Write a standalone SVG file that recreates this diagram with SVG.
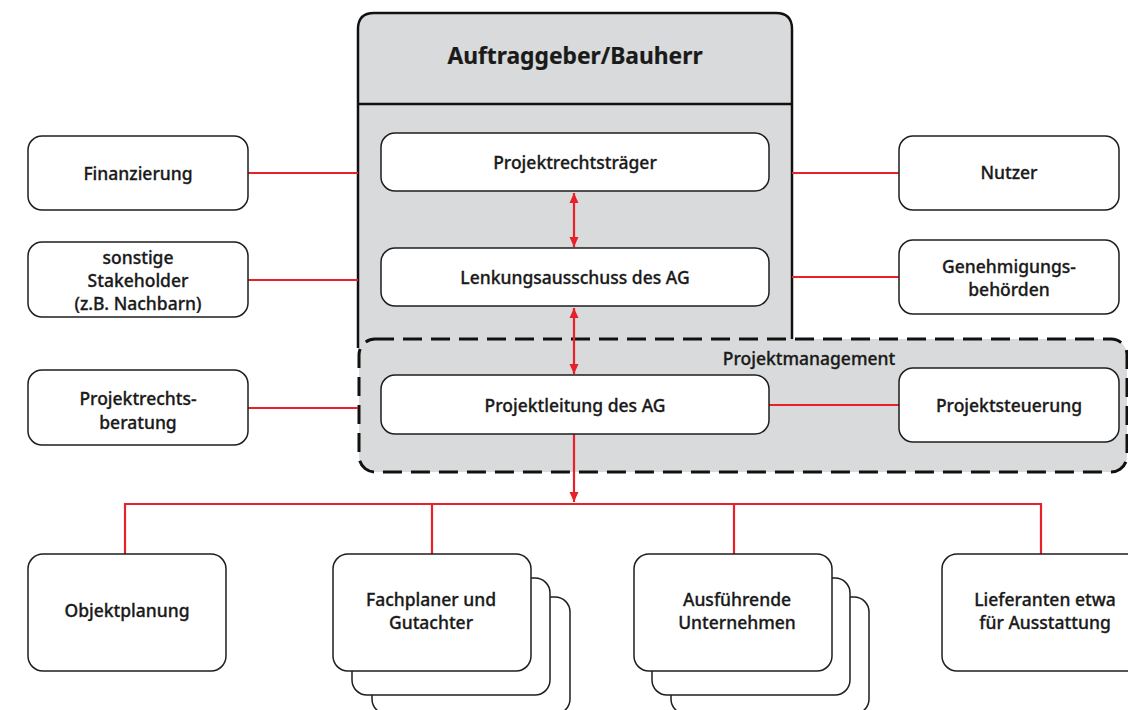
<svg xmlns="http://www.w3.org/2000/svg" width="1128" height="710" viewBox="0 0 1128 710">
  <style>
    .box { fill: #ffffff; stroke: #1e1e1e; stroke-width: 1.5; }
    .fill { fill: #d9dadb; stroke: none; }
    .edge { fill: none; stroke: #111111; stroke-width: 2.5; }
    .pm { fill: #d9dadb; stroke: #111111; stroke-width: 3; stroke-dasharray: 19 9; }
    .link { fill: none; stroke: #e8202a; stroke-width: 2.2; }
    text { font-family: "Noto Sans", "Liberation Sans", sans-serif; font-size: 17.5px; font-weight: 500; fill: #1a1a1a; stroke: #1a1a1a; stroke-width: 0.3; text-anchor: middle; dominant-baseline: central; }
    .title { font-size: 22.8px; font-weight: 700; stroke-width: 0.2; }
  </style>
  <defs>
    <marker id="arrow" viewBox="0 0 10 12" refX="10" refY="6" markerWidth="10" markerHeight="12" markerUnits="userSpaceOnUse" orient="auto-start-reverse">
      <path d="M0,1.5 L10,6 L0,10.5 Z" fill="#e8202a"/>
    </marker>
  </defs>

  <!-- client frame: open at the bottom, where the project management frame overlaps it -->
  <g id="auftraggeber">
    <path class="fill" d="M358,360 V29 Q358,13 374,13 H776 Q792,13 792,29 V360 Z"/>
    <path class="edge" d="M358,348 V29 Q358,13 374,13 H776 Q792,13 792,29 V339"/>
    <line x1="358" y1="104" x2="792" y2="104" stroke="#111111" stroke-width="2.5"/>
    <text class="title" x="575" y="55">Auftraggeber/Bauherr</text>
  </g>

  <!-- project management frame -->
  <g id="projektmanagement">
    <rect class="pm" x="359" y="339" width="768" height="133" rx="16"/>
    <text x="809" y="358">Projektmanagement</text>
  </g>

  <!-- connectors -->
  <g id="connectors">
    <line class="link" x1="248" y1="173" x2="358" y2="173"/>
    <line class="link" x1="248" y1="280" x2="358" y2="280"/>
    <line class="link" x1="248" y1="408" x2="358" y2="408"/>
    <line class="link" x1="792" y1="173" x2="899" y2="173"/>
    <line class="link" x1="792" y1="277" x2="899" y2="277"/>
    <line class="link" x1="769" y1="405" x2="899" y2="405"/>
    <line class="link" x1="574" y1="193" x2="574" y2="247" marker-start="url(#arrow)" marker-end="url(#arrow)"/>
    <line class="link" x1="574" y1="308" x2="574" y2="374" marker-start="url(#arrow)" marker-end="url(#arrow)"/>
    <line class="link" x1="574" y1="434" x2="574" y2="502" marker-end="url(#arrow)"/>
    <polyline class="link" points="125,554 125,504 1041,504 1041,554"/>
    <line class="link" x1="432" y1="504" x2="432" y2="554"/>
    <line class="link" x1="734" y1="504" x2="734" y2="554"/>
  </g>

  <!-- inner client boxes -->
  <g id="projektrechtstraeger">
    <rect class="box" x="381" y="133" width="388" height="58" rx="14"/>
    <text x="575" y="162">Projektrechtsträger</text>
  </g>
  <g id="lenkungsausschuss">
    <rect class="box" x="381" y="248" width="388" height="58" rx="14"/>
    <text x="575" y="277">Lenkungsausschuss des AG</text>
  </g>
  <g id="projektleitung">
    <rect class="box" x="381" y="375" width="388" height="59" rx="14"/>
    <text x="575" y="405">Projektleitung des AG</text>
  </g>
  <g id="projektsteuerung">
    <rect class="box" x="899" y="368" width="220" height="74" rx="14"/>
    <text x="1009" y="405">Projektsteuerung</text>
  </g>

  <!-- left side -->
  <g id="finanzierung">
    <rect class="box" x="28" y="136" width="220" height="74" rx="14"/>
    <text x="138" y="173">Finanzierung</text>
  </g>
  <g id="stakeholder">
    <rect class="box" x="28" y="242" width="220" height="75" rx="14"/>
    <text x="138" y="257">sonstige</text>
    <text x="138" y="280">Stakeholder</text>
    <text x="138" y="303">(z.B. Nachbarn)</text>
  </g>
  <g id="projektrechtsberatung">
    <rect class="box" x="28" y="370" width="220" height="75" rx="14"/>
    <text x="138" y="398">Projektrechts-</text>
    <text x="138" y="422">beratung</text>
  </g>

  <!-- right side -->
  <g id="nutzer">
    <rect class="box" x="899" y="136" width="220" height="74" rx="14"/>
    <text x="1009" y="172">Nutzer</text>
  </g>
  <g id="genehmigungsbehoerden">
    <rect class="box" x="899" y="240" width="220" height="74" rx="14"/>
    <text x="1009" y="266">Genehmigungs-</text>
    <text x="1009" y="289">behörden</text>
  </g>

  <!-- bottom row -->
  <g id="objektplanung">
    <rect class="box" x="28" y="554" width="198" height="117" rx="15"/>
    <text x="127" y="610">Objektplanung</text>
  </g>
  <g id="fachplaner">
    <rect class="box" x="372" y="597" width="198" height="117" rx="15"/>
    <rect class="box" x="352" y="578" width="198" height="117" rx="15"/>
    <rect class="box" x="333" y="554" width="198" height="117" rx="15"/>
    <text x="431" y="599">Fachplaner und</text>
    <text x="431" y="622">Gutachter</text>
  </g>
  <g id="ausfuehrende">
    <rect class="box" x="671" y="597" width="198" height="117" rx="15"/>
    <rect class="box" x="652" y="578" width="198" height="117" rx="15"/>
    <rect class="box" x="634" y="554" width="198" height="117" rx="15"/>
    <text x="737" y="599">Ausführende</text>
    <text x="737" y="622">Unternehmen</text>
  </g>
  <g id="lieferanten">
    <rect class="box" x="942" y="554" width="206" height="117" rx="15"/>
    <text x="1045" y="599">Lieferanten etwa</text>
    <text x="1045" y="622">für Ausstattung</text>
  </g>
</svg>
